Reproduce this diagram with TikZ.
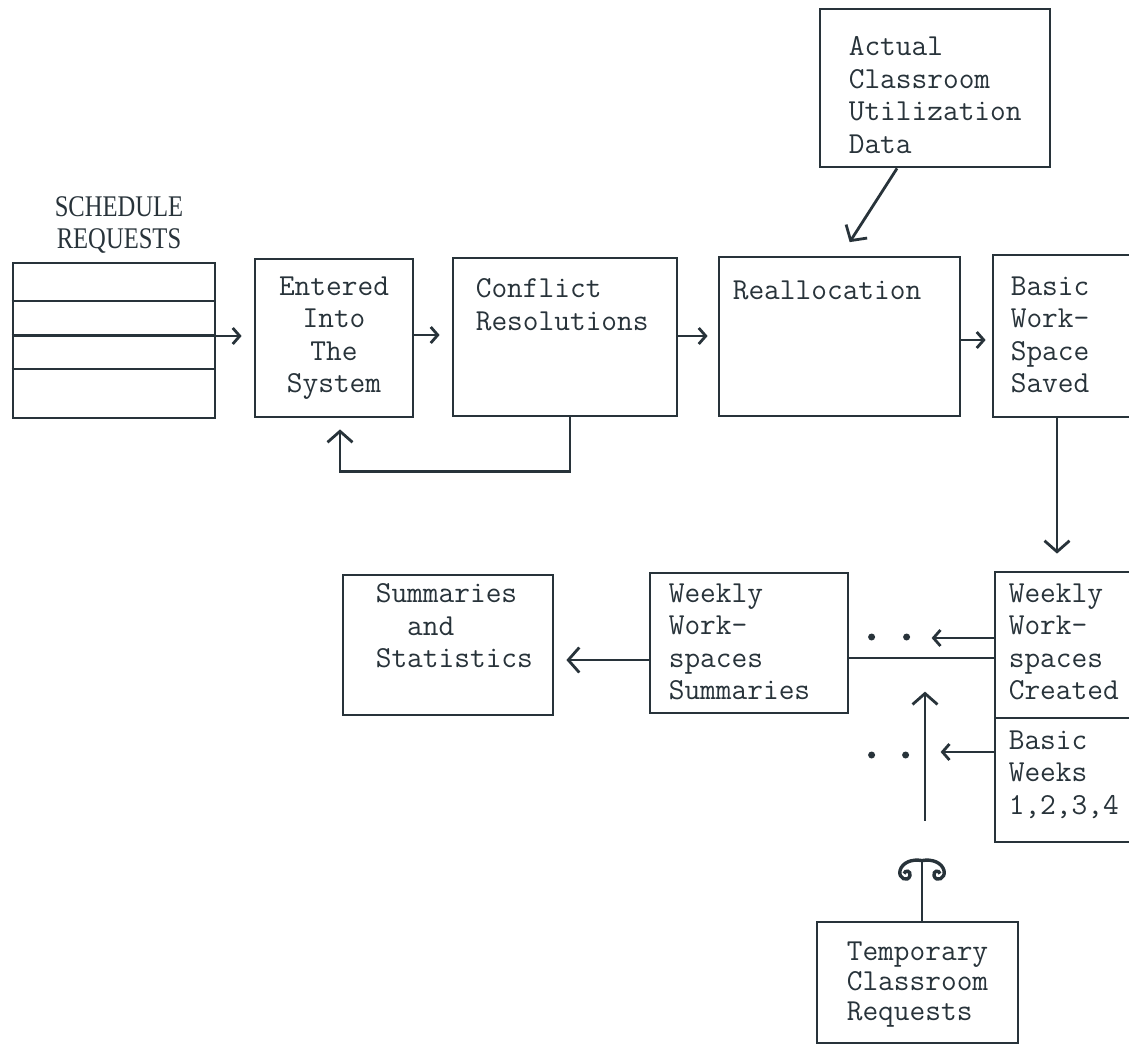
\documentclass[tikz,border=0pt]{standalone}
\usepackage{fontspec}
\newfontfamily\headfont[FakeStretch=0.82]{Liberation Serif}
\usetikzlibrary{arrows.meta,calc}
\definecolor{ink}{HTML}{28333A}

\begin{document}
\begin{tikzpicture}[x=1pt,y=-1pt,
  box/.style={draw=ink,line width=2.8pt,inner sep=0pt},
  txt/.style={font=\fontsize{30.5}{32.5}\selectfont\ttfamily\addfontfeatures{FakeBold=0.6},align=left,inner sep=0pt,text=ink},
  line/.style={draw=ink,line width=2.8pt},
  arr/.style={line,-{Straight Barb[length=7pt,width=16pt]}},
  arrbig/.style={line,-{Straight Barb[length=11pt,width=25pt]}},
  dot/.style={circle,fill=ink,inner sep=0pt,minimum size=7pt}]
\useasboundingbox (0,0) rectangle (1129,1044);
\clip (0,0) rectangle (1129,1044);

\node[box,minimum width=202pt,minimum height=155pt] (sched) at (114,340.5) {};
\foreach \f in {0.25,0.47,0.68}
  \draw[line] ($(sched.north west)!\f!(sched.south west)$) -- ($(sched.north east)!\f!(sched.south east)$);
\node[font=\headfont\fontsize{30}{32}\selectfont,align=center,inner sep=0pt,anchor=north,text=ink] (head) at ([xshift=5pt,yshift=65pt]sched.north) {SCHEDULE\\REQUESTS};

\node[box,txt,align=center,minimum width=158pt,minimum height=158pt] (entered) at (334,338) {Entered\\Into\\The\\System};
\node[box,minimum width=224pt,minimum height=158pt] (conflict) at (565,337) {};
\node[txt,anchor=north west] (conflictT) at ([xshift=24pt,yshift=-22pt]conflict.north west) {Conflict\\Resolutions};
\node[box,minimum width=241pt,minimum height=159pt] (realloc) at (839.5,336.5) {};
\node[txt,anchor=north west] (reallocT) at ([xshift=15pt,yshift=-25pt]realloc.north west) {Reallocation};
\node[box,minimum width=147pt,minimum height=162pt] (saved) at (1066.5,336) {};
\node[txt,anchor=north west] (savedT) at ([xshift=19pt,yshift=-23pt]saved.north west) {Basic\\Work-\\Space\\Saved};
\node[box,minimum width=230pt,minimum height=158pt] (actual) at (935,88) {};
\node[txt,anchor=north west] (actualT) at ([xshift=30pt,yshift=-29pt]actual.north west) {Actual\\Classroom\\Utilization\\Data};

\node[box,minimum width=210pt,minimum height=140pt] (summ) at (448,645) {};
\node[txt,anchor=north west] (summT) at ([xshift=34pt,yshift=-10pt]summ.north west) {Summaries\\\phantom{Su}and\\Statistics};
\node[box,minimum width=198pt,minimum height=140pt] (wsum) at (749,643) {};
\node[txt,anchor=north west] (wsumT) at ([xshift=20pt,yshift=-12pt]wsum.north west) {Weekly\\Work-\\spaces\\Summaries};
\node[box,minimum width=145pt,minimum height=146pt] (created) at (1067.5,645) {};
\node[txt,anchor=north west] (createdT) at ([xshift=15pt,yshift=-13pt]created.north west) {Weekly\\Work-\\spaces\\Created};
\node[box,minimum width=145pt,minimum height=124pt] (weeks) at (1067.5,780) {};
\node[txt,anchor=north west] (weeksT) at ([xshift=15pt,yshift=-14pt]weeks.north west) {Basic\\Weeks\\1,2,3,4};
\node[box,minimum width=201pt,minimum height=121pt] (temp) at (917.5,982.5) {};
\node[txt,anchor=north west,font=\fontsize{30.5}{30}\selectfont\ttfamily\addfontfeatures{FakeBold=0.6}] (tempT) at ([xshift=31pt,yshift=-21pt]temp.north west) {Temporary\\Classroom\\Requests};

\coordinate (sA) at ([yshift=4.5pt]sched.east);
\draw[arr,shorten >=12pt] (sA) -- (sA -| entered.west);
\coordinate (eA) at ([yshift=3pt]entered.east);
\draw[arr,shorten >=12pt] (eA) -- (eA -| conflict.west);
\coordinate (rA) at ([yshift=1pt]conflict.east);
\draw[arr,shorten >=10pt] (rA) -- (rA -| realloc.west);
\coordinate (vA) at ([yshift=-3.5pt]realloc.east);
\draw[arr,shorten >=6pt] (vA) -- (vA -| saved.west);
\draw[arrbig,shorten >=11pt] ([xshift=5pt]conflict.south) -- ++(0,54) -| ([xshift=6pt]entered.south);
\draw[arrbig,shorten >=16pt] ([xshift=-38pt]actual.south) -- ([xshift=1.5pt]realloc.north);
\draw[arrbig,shorten >=17pt] ([xshift=-9.5pt]saved.south) -- ([xshift=-10.5pt]created.north);

\coordinate (wA) at ([yshift=-17pt]wsum.west);
\draw[arrbig,shorten >=12pt] (wA) -- (wA -| summ.east);
\coordinate (cA) at ([yshift=-13pt]created.west);
\draw[line] (cA) -- (cA -| wsum.east);
\coordinate (cB) at ([yshift=7pt]created.west);
\coordinate (cBend) at ([xshift=-62pt]cB);
\draw[arr] (cB) -- (cBend);
\node[dot] (dotA1) at ([xshift=-122pt,yshift=1pt]cB) {};
\node[dot] (dotA2) at ([xshift=-87pt,yshift=1pt]cB) {};
\coordinate (kA) at ([yshift=28pt]weeks.west);
\coordinate (kAend) at ([xshift=-53pt]kA);
\draw[arr] (kA) -- (kAend);
\node[dot] (dotB1) at ([xshift=-122pt,yshift=-3pt]kA) {};
\node[dot] (dotB2) at ([xshift=-88pt,yshift=-3pt]kA) {};

\coordinate (upFoot) at ([xshift=7.5pt,yshift=100pt]temp.north);
\coordinate (upTip) at ([yshift=129pt]upFoot);
\draw[arrbig] (upFoot) -- (upTip);
\coordinate (curlTop) at ([xshift=4.5pt,yshift=60pt]temp.north);
\draw[line] (curlTop |- temp.north) -- (curlTop);
\begin{scope}[shift={(curlTop)}]
\draw[line,line width=3.4pt] (0,0) .. controls (-10,-2) and (-20,2) .. (-22,10) .. controls (-24,18) and (-14,22) .. (-12,15) .. controls (-11,10) and (-17,9) .. (-18,13);
\draw[line,line width=3.4pt] (0,0) .. controls (10,-2) and (20,2) .. (22,10) .. controls (24,18) and (14,22) .. (12,15) .. controls (11,10) and (17,9) .. (18,13);
\end{scope}
\end{tikzpicture}
\end{document}
